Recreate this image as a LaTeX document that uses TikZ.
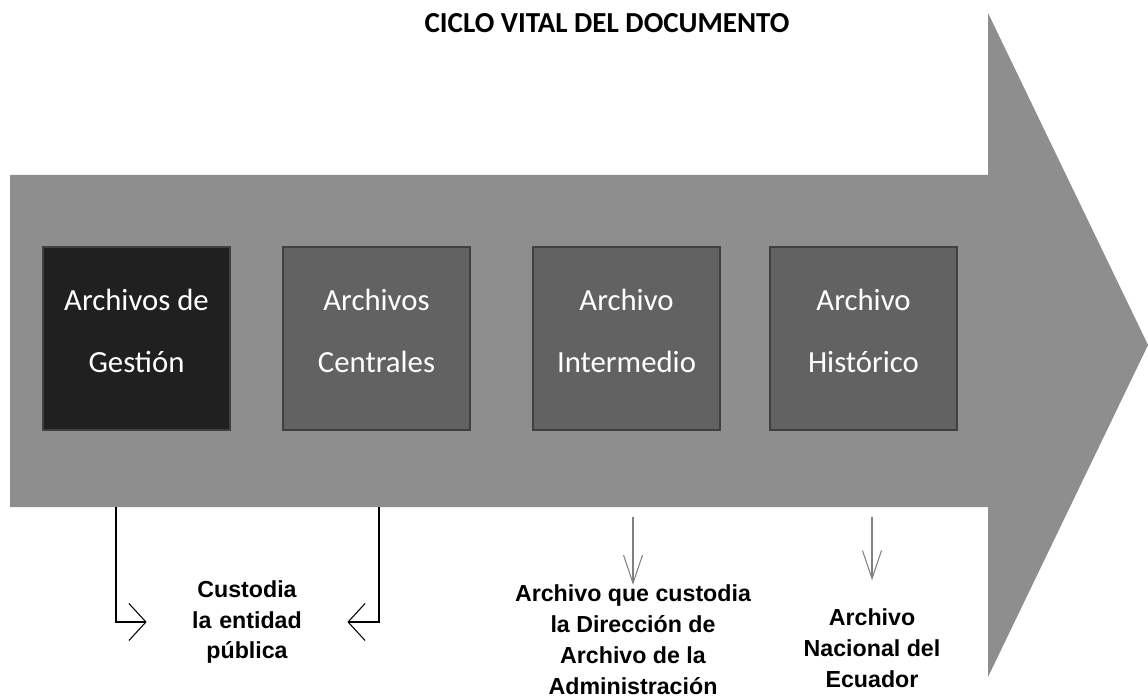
\documentclass[tikz,border=0pt]{standalone}
\usepackage{fontspec}
\setmainfont{Carlito}
\newfontfamily\labelfont{Liberation Sans}
\usetikzlibrary{arrows.meta}
\definecolor{arrowgray}{RGB}{142,142,142}
\definecolor{stagedark}{RGB}{32,32,32}
\definecolor{stagegray}{RGB}{98,98,98}

\begin{document}
\begin{tikzpicture}[
  stage/.style={draw=black!75, line width=0.8pt, minimum width=3.74cm, minimum height=3.66cm, text depth=0.3cm, align=center, text=white, font=\fontsize{17.5}{35}\selectfont},
  note/.style={align=center, inner sep=0pt, font=\labelfont\bfseries\fontsize{13.2}{17.6}\selectfont},
  elbow/.style={line width=0.6pt, -{Straight Barb[length=0.34cm, width=0.74cm]}},
  drop/.style={gray, line width=0.6pt, -{Straight Barb[length=0.56cm, width=0.38cm]}}
]
\useasboundingbox (0,0) rectangle (22.96,-13.98);

% The big arrow
\fill[arrowgray] (0.2,-3.5) -- (19.76,-3.5) -- (19.76,-0.26) -- (22.96,-6.9) -- (19.76,-13.54) -- (19.76,-10.14) -- (0.2,-10.14) -- cycle;

\node[font=\bfseries\fontsize{16.5}{20}\selectfont] (title) at (12.14,-0.46) {CICLO VITAL DEL DOCUMENTO};

% The four archives
\node[stage, fill=stagedark] (gestion) at (2.73,-6.77) {Archivos de\\Gestión};
\node[stage, fill=stagegray] (centrales) at (7.53,-6.77) {Archivos\\Centrales};
\node[stage, fill=stagegray] (intermedio) at (12.53,-6.77) {Archivo\\Intermedio};
\node[stage, fill=stagegray] (historico) at (17.27,-6.77) {Archivo\\Histórico};

% Who keeps them
\node[note, text width=4cm] (custodia) at (4.94,-12.44) {Custodia\\la entidad\\pública};
\node[note] (admin) at (12.66,-12.80) {Archivo que custodia\\la Dirección de\\Archivo de la\\Administración};
\node[note] (nacional) at (17.44,-12.96) {Archivo\\Nacional del\\Ecuador};

\coordinate (g1) at (2.32,-10.14);
\coordinate (g2) at (7.58,-10.14);
\coordinate (d1) at (12.66,-10.34);
\coordinate (d2) at (17.44,-10.34);

\draw[elbow] (g1) |- (custodia.west);
\draw[elbow] (g2) |- (custodia.east);
\draw[drop] (d1) -- (admin.north);
\draw[drop, shorten >=0.56cm] (d2) -- (nacional.north);
\end{tikzpicture}
\end{document}
